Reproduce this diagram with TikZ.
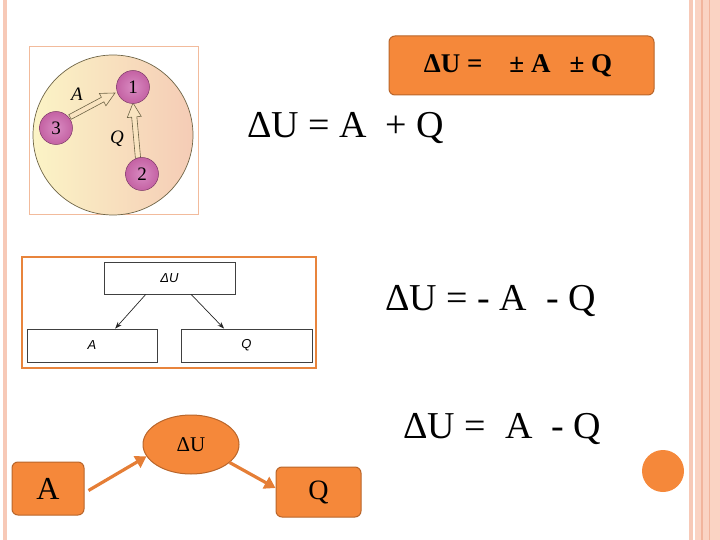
\documentclass[tikz,border=0pt]{standalone}
\usepackage{fontspec}
\setmainfont{Liberation Serif}
\newfontfamily\sansfam{Liberation Sans}
\usetikzlibrary{calc,arrows.meta,shapes.geometric}
\definecolor{orng}{HTML}{F5883A}
\definecolor{orngdk}{HTML}{B9652A}
\definecolor{arrorng}{HTML}{E57E36}
\definecolor{pinkline}{HTML}{F7C9B7}
\definecolor{pinkband}{HTML}{FAD3C3}
\definecolor{pinkdark}{HTML}{F2B49C}
\definecolor{frameor}{HTML}{E8843C}
\definecolor{framelt}{HTML}{F2BB9C}
\definecolor{ballc}{HTML}{C462A3}
\definecolor{balldk}{HTML}{7D3A68}
\definecolor{ballhi}{HTML}{D98BC2}
\definecolor{circl}{HTML}{FBF4C6}
\definecolor{circr}{HTML}{F5CCB6}
\definecolor{outl}{HTML}{6E6446}
\newcommand\hollowarrow[2]{%
  \draw[hollow] let \p1=($(#2)-(#1)$), \n1={atan2(\y1,\x1)}, \n2={veclen(\x1,\y1)} in
    ($(#1)+(\n1+90:2.6pt)$) -- ($(#1)+(\n1+90:2.6pt)+(\n1:{\n2-14pt})$)
    -- ($(#1)+(\n1+90:7pt)+(\n1:{\n2-14pt})$) -- (#2)
    -- ($(#1)+(\n1-90:7pt)+(\n1:{\n2-14pt})$) -- ($(#1)+(\n1-90:2.6pt)+(\n1:{\n2-14pt})$)
    -- ($(#1)+(\n1-90:2.6pt)$) -- cycle;}
\begin{document}
\begin{tikzpicture}[x=1pt,y=-1pt,
  hollow/.style={draw=outl, line width=0.6pt, fill=circl!60!circr},
  ball/.style={circle, minimum size=33pt, inner sep=0pt, draw=balldk, line width=0.5pt,
    inner color=ballhi, outer color=ballc, font=\fontsize{19}{19}\selectfont},
  flatbox/.style={draw=black!75, line width=0.7pt, inner sep=0pt, font=\sansfam\itshape\fontsize{13}{13}\selectfont},
  orbox/.style={draw=orngdk, fill=orng, line width=1pt, rounded corners=6pt, inner sep=0pt},
  flowarrow/.style={draw=arrorng, line width=3.2pt, -{Triangle[length=11pt,width=13pt]}},
  thinarrow/.style={draw=black!85, line width=0.7pt, -{Stealth[length=7pt,width=5pt]}},
  eq/.style={anchor=west, inner sep=0pt, font=\fontsize{38}{42}\selectfont}]
\useasboundingbox (0,0) rectangle (720,540);
% page borders
\fill[pinkline] (3,0) rectangle (7,540);
\fill[pinkline] (689,0) rectangle (693,540);
\fill[pinkband] (695,0) rectangle (720,540);
\draw[pinkdark, line width=1.2pt] (702,0) -- (702,540);
\draw[pinkdark, line width=1pt] (709,0) -- (709,540);
% top-left picture
\draw[framelt, line width=1pt] (29,47) rectangle (198,215);
\shade[left color=circl, right color=circr, draw=outl, line width=0.7pt] (113,135) circle (80);
\coordinate (a3s) at (70,117);
\coordinate (a3e) at (115,93);
\coordinate (a2s) at (138,158);
\coordinate (a2e) at (133,103);
\hollowarrow{a3s}{a3e}
\hollowarrow{a2s}{a2e}
\node[ball] (b1) at (133,87) {1};
\node[ball] (b3) at (56,128) {3};
\node[ball] (b2) at (142,174) {2};
\node[font=\itshape\fontsize{19}{19}\selectfont] (la) at (77,94) {A};
\node[font=\itshape\fontsize{19}{19}\selectfont] (lq) at (117,139) {Q};
% top-right box
\node[orbox, minimum width=265pt, minimum height=59pt] (top) at (521.5,65.5) {};
\node[font=\bfseries\fontsize{27}{27}\selectfont] (toptext) at (518,66) {ΔU =\hspace{27pt}± A\hspace{19pt}± Q};
% equations
\node[eq] (eq1) at (247,128) {ΔU = A \ + Q};
\node[eq] (eq2) at (385,301) {ΔU = - A \ - Q};
\node[eq] (eq3) at (403,429) {ΔU = \ A \ - Q};
% middle picture
\draw[frameor, line width=2pt] (22,257) rectangle (316,368);
\node[flatbox, minimum width=131pt, minimum height=32pt] (du) at (169.5,278) {ΔU};
\node[flatbox, minimum width=130pt, minimum height=33pt] (ba) at (92,345.5) {A};
\node[flatbox, minimum width=131pt, minimum height=33pt] (bq) at (246.5,345.5) {Q};
\draw[thinarrow] ($(du.south west)!0.32!(du.south east)$) -- ($(ba.north west)!0.677!(ba.north east)$);
\draw[thinarrow] ($(du.south west)!0.664!(du.south east)$) -- ($(bq.north west)!0.33!(bq.north east)$);
% bottom flow
\node[orbox, minimum width=72pt, minimum height=53pt, font=\fontsize{32}{32}\selectfont] (fa) at (48,488.5) {A};
\node[ellipse, draw=orngdk, fill=orng, line width=1pt, minimum width=96pt, minimum height=59pt, inner sep=0pt, font=\fontsize{21}{21}\selectfont] (fu) at (191,444.5) {ΔU};
\node[orbox, minimum width=85pt, minimum height=50pt, font=\fontsize{28}{28}\selectfont] (fq) at (318.5,492) {Q};
\draw[flowarrow] ($(fa.east)+(4,2)$) -- (fu.195);
\draw[flowarrow] (fu.335) -- ($(fq.west)+(0,-4)$);
% decorative dot
\fill[orng] (663,471) circle (21);
\end{tikzpicture}
\end{document}
